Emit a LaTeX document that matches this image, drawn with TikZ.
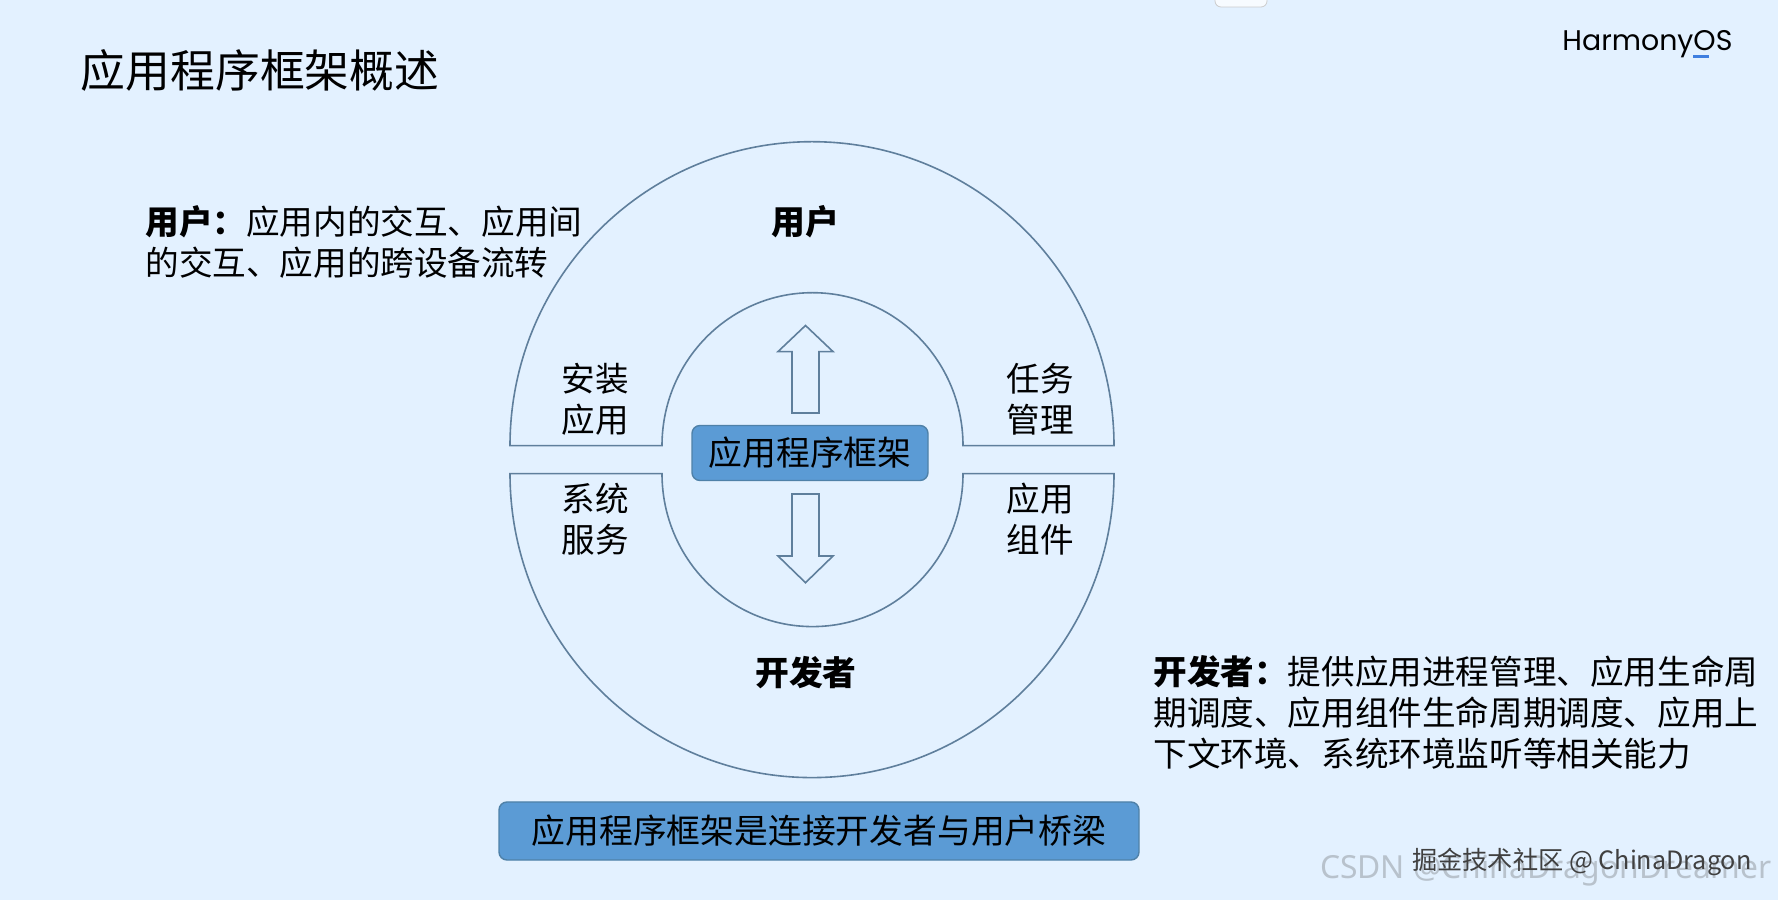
\documentclass[tikz,border=0pt]{standalone}
\usepackage{fontspec}
\setmainfont{Noto Sans CJK SC}
\newfontfamily\logofont{Poppins}
\newfontfamily\markfont{Noto Sans}
\definecolor{pagebg}{HTML}{E3F1FF}
\definecolor{ringline}{HTML}{5F7F9C}
\definecolor{boxfill}{HTML}{5B9BD5}
\definecolor{boxline}{HTML}{4F81A8}
\definecolor{logoblue}{HTML}{3F7FE0}
\definecolor{marktext}{HTML}{B8C2CC}
\tikzset{
	ringpart/.style={draw=ringline, line width=0.8pt},
	hollowarrow/.style={draw=ringline, line width=0.8pt},
	framebox/.style={draw=boxline, fill=boxfill, rounded corners=4pt, line width=0.7pt, inner sep=0pt, font=\fontsize{16.9}{20.5}\selectfont, text=black},
	bodytext/.style={align=left, inner sep=0pt, font=\fontsize{16.8}{20.5}\selectfont},
	parttext/.style={align=center, inner sep=0pt, font=\fontsize{16.8}{20.5}\selectfont},
	roletext/.style={inner sep=0pt, font=\fontsize{16.9}{20.5}\selectfont\bfseries}
}
\begin{document}
\begin{tikzpicture}[x=0.5pt, y=0.5pt]
	\useasboundingbox [fill=pagebg] ( 0, 0 ) rectangle ( 1778, 900 );

	% tab at the top edge
	\draw [draw=black!20, fill=white!70!pagebg, rounded corners=3pt] ( 1215, 893 ) rectangle ( 1267, 910 );

	% title and logo
	\node [anchor=west, inner sep=0pt, font=\fontsize{22.4}{27}\selectfont] (title) at ( 80.5, 830 ) {应用程序框架概述};
	\node [anchor=base west, inner sep=0pt, font=\fontsize{14.2}{19}\logofont] (logo) at ( 1562, 849.5 ) {HarmonyOS};
	\fill [logoblue] ( 1693, 842 ) rectangle ( 1709, 845 );

	% upper half of the ring
	\draw [ringpart] ( 510, 454.3 ) arc [start angle=180, end angle=0, x radius=302, y radius=304]
		-- ( 963, 454.3 ) arc [start angle=0, end angle=180, x radius=150.5, y radius=153] -- cycle;
	% lower half of the ring
	\draw [ringpart] ( 510, 426.4 ) arc [start angle=180, end angle=360, x radius=302, y radius=304]
		-- ( 963, 426.4 ) arc [start angle=360, end angle=180, x radius=150.5, y radius=153] -- cycle;

	% arrows
	\draw [hollowarrow] ( 805.5, 574.5 ) -- ( 833, 548.4 ) -- ( 819, 548.4 ) -- ( 819, 487 ) -- ( 792, 487 ) -- ( 792, 548.4 ) -- ( 778, 548.4 ) -- cycle;
	\draw [hollowarrow] ( 805.5, 317.3 ) -- ( 833, 344 ) -- ( 819, 344 ) -- ( 819, 406 ) -- ( 792, 406 ) -- ( 792, 344 ) -- ( 778, 344 ) -- cycle;

	% boxes
	\node [framebox, minimum width=118pt, minimum height=27.5pt] (framework) at ( 810, 447 ) {应用程序框架};
	\node [framebox, minimum width=320pt, minimum height=29pt] (bridge) at ( 819, 69 ) {应用程序框架是连接开发者与用户桥梁};

	% labels in the ring
	\node [roletext] (user) at ( 805, 678 ) {用户};
	\node [roletext] (developer) at ( 806, 227.5 ) {开发者};
	\node [parttext] (install) at ( 595.5, 501 ) {安装\\应用};
	\node [parttext] (task) at ( 1040, 501 ) {任务\\管理};
	\node [parttext] (service) at ( 595.5, 381 ) {系统\\服务};
	\node [parttext] (component) at ( 1040, 381 ) {应用\\组件};

	% notes
	\node [bodytext, anchor=north west] (usernote) at ( 145, 694.5 ) {\textbf{用户：}应用内的交互、应用间\\的交互、应用的跨设备流转};
	\node [bodytext, anchor=north west] (devnote) at ( 1153, 244.5 ) {\textbf{开发者：}提供应用进程管理、应用生命周\\期调度、应用组件生命周期调度、应用上\\下文环境、系统环境监听等相关能力};

	% watermarks
	\node [anchor=east, inner sep=0pt, text=marktext, font=\fontsize{15.9}{19}\markfont] (csdnmark) at ( 1772, 30 ) {CSDN @ChinaDragonDreamer};
	\node [anchor=east, inner sep=0pt, text=black!75, font=\fontsize{12.6}{15}\selectfont] (juejinmark) at ( 1752, 38 ) {掘金技术社区 @ ChinaDragon};
\end{tikzpicture}
\end{document}
